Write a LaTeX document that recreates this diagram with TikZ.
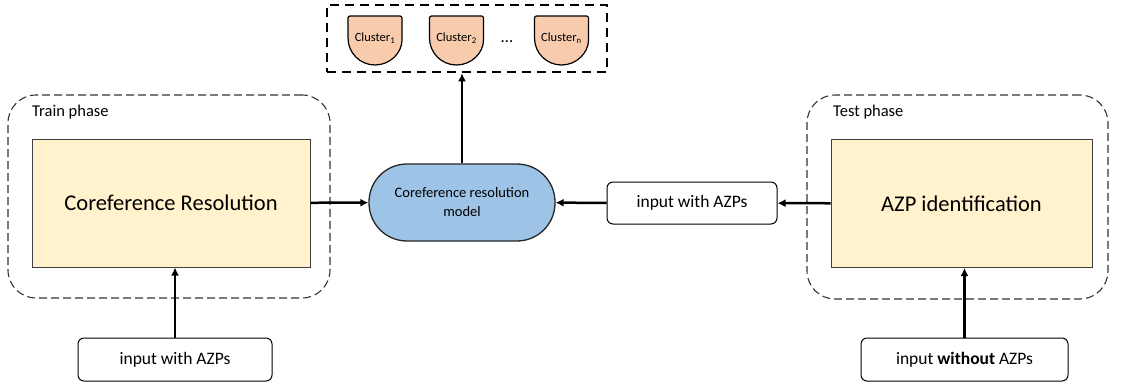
\documentclass[tikz,border=0pt]{standalone}
\usepackage{fontspec}
\setmainfont{Carlito}
\usetikzlibrary{positioning}
\usetikzlibrary{arrows.meta}
\definecolor{stageyellow}{HTML}{FFF2CC}
\definecolor{modelblue}{HTML}{9DC3E6}
\definecolor{clusterpeach}{HTML}{F8CBAD}

\begin{document}
\begin{tikzpicture}[x=1pt, y=-1pt, align=center, arrow/.style={-{Latex[length=8pt,width=8pt]}, line width=2.5pt},
        phase/.style={draw=black!80, dash pattern=on 8pt off 4pt, rounded corners=28pt, line width=1.1pt},
        stage/.style={draw=black!75, fill=stageyellow, line width=1pt, minimum height=128pt, font=\fontsize{22.5}{27}\selectfont},
        inbox/.style={draw, rounded corners=6pt, line width=1pt, minimum height=43pt, font=\fontsize{17.5}{21}\selectfont},
        cluster/.style={draw, fill=clusterpeach, line width=1.2pt}]
        \useasboundingbox (0,0) rectangle (1146,388);

        % phases
        \node[phase, minimum width=322pt, minimum height=203pt] (trainph) at (169,196.5) {};
        \node[phase, minimum width=301pt, minimum height=204pt] (testph) at (957.5,197) {};
        \node[anchor=west, inner sep=0pt, font=\fontsize{16.5}{20}\selectfont] (trainlbl) at (32,112) {Train phase};
        \node[anchor=west, inner sep=0pt, font=\fontsize{16.5}{20}\selectfont] (testlbl) at (833,112) {Test phase};

        \node[stage, minimum width=278pt] (train) at (171,203) {Coreference Resolution};
        \node[stage, minimum width=261pt] (test) at (961.5,203.5) {AZP identification};
        \node[draw=black!85, fill=modelblue, line width=1.3pt, rounded corners=38pt, minimum width=186pt, minimum height=77pt, font=\fontsize{14.5}{19}\selectfont] (model) at (462,202.5) {Coreference resolution\\model};

        \node[inbox, minimum width=194pt] (inL) at (175,359.5) {input with AZPs};
        \node[inbox, minimum width=170pt, minimum height=42pt] (inR) at (692,203) {input with AZPs};
        \node[inbox, minimum width=207pt] (inB) at (964.5,359.5) {input \textbf{without} AZPs};

        % clusters
        \node[draw, line width=2.6pt, dash pattern=on 9pt off 6pt, minimum width=280pt, minimum height=67pt] (clu) at (467,38.5) {};
        \foreach \cx/\ci in {375/1, 456.5/2, 561.5/n} {
            \draw[cluster, rounded corners=2pt] (\cx-27,38) -- (\cx-27,16) -- (\cx+27,16) -- (\cx+27,38) [sharp corners] arc[start angle=0, end angle=180, radius=27] -- cycle;
            \node[font=\fontsize{12.5}{14}\selectfont] (cl\ci) at (\cx,38) {Cluster\textsubscript{\ci}};
        }
        \node[font=\fontsize{17}{20}\selectfont] (dots) at (507,42) {\ldots};

        \draw[arrow] (train) to (model);
        \draw[arrow] (inR) to (model);
        \draw[arrow] (test) to (inR);
        \draw[arrow] (inL.north) to (inL.north |- train.south);
        \draw[arrow] (inB.north) to (inB.north |- test.south);
        \draw[arrow] (model.north) to (model.north |- clu.south);
    \end{tikzpicture}
\end{document}
